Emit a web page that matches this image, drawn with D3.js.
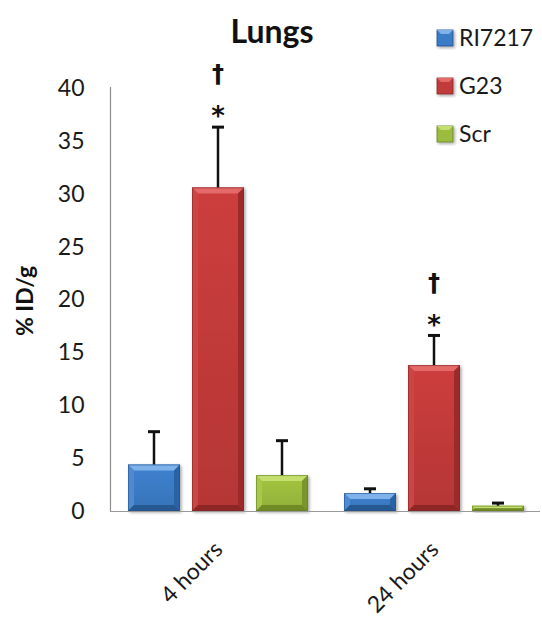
<!DOCTYPE html>
<html>
<head>
<meta charset="utf-8">
<script src="https://cdn.jsdelivr.net/npm/d3@7"></script>
<style>
  html, body { margin: 0; padding: 0; background: #fff; }
  svg { display: block; font-family: Lato, "Open Sans", sans-serif; }
</style>
</head>
<body>
<svg id="chart" width="542" height="621"></svg>
<script>
// Lungs uptake (% ID/g) per time point and peptide
const categories = ["4 hours", "24 hours"];
const seriesNames = ["RI7217", "G23", "Scr"];
const means = {
  "RI7217": [4.4, 1.7],
  "G23":    [30.6, 13.8],
  "Scr":    [3.4, 0.5]
};
const errors = {
  "RI7217": [3.1, 0.4],
  "G23":    [5.7, 2.8],
  "Scr":    [3.25, 0.25]
};
const yTicks = [0, 5, 10, 15, 20, 25, 30, 35, 40];
// significance marks drawn above the G23 bars
const sigSeries = "G23";
const sigStar = ["*", "*"];
const sigDagger = ["\u2020", "\u2020"];

const palette = {
  "RI7217": { base: "#3b7bc6", top: "#7fb2ea", left: "#4d8ad2", right: "#2c62a6", bottom: "#275892", edge: "#24508a" },
  "G23":    { base: "#c23a3a", top: "#e46a6a", left: "#cc4545", right: "#9c2a2a", bottom: "#8e2626", edge: "#862424" },
  "Scr":    { base: "#9bbc3d", top: "#c4df70", left: "#a8c84c", right: "#7a962b", bottom: "#6f8a26", edge: "#667f22" }
};

const svg = d3.select("#chart");

const x = d3.scaleBand().domain(categories).range([110, 542]).paddingInner(0).paddingOuter(0);
const xs = d3.scaleBand().domain(seriesNames).range([0, x.bandwidth()])
  .paddingInner(0.1875).paddingOuter(0.28125);
const y = d3.scaleLinear().domain([0, 40]).range([511, 88]);

const defs = svg.append("defs");
const shadow = defs.append("filter").attr("id", "shadow")
  .attr("x", "-20%").attr("y", "-20%").attr("width", "140%").attr("height", "140%");
shadow.append("feDropShadow").attr("dx", 1.5).attr("dy", 1.5)
  .attr("stdDeviation", 1.5).attr("flood-color", "#000").attr("flood-opacity", 0.35);

// shading down each bar face
seriesNames.forEach(s => {
  const g = defs.append("linearGradient").attr("id", "grad-" + s)
    .attr("x1", 0).attr("y1", 0).attr("x2", 0).attr("y2", 1);
  g.append("stop").attr("offset", "0%").attr("stop-color", d3.color(palette[s].base).brighter(0.15));
  g.append("stop").attr("offset", "100%").attr("stop-color", d3.color(palette[s].base).darker(0.2));
});

// axes lines
svg.append("line")
  .attr("x1", 110.5).attr("x2", 110.5).attr("y1", y(40) - 1).attr("y2", y(0) + 1)
  .attr("stroke", "#8c8c8c").attr("stroke-width", 1.2);

// y tick labels
const yAxis = d3.axisLeft(y).tickValues(yTicks).tickSize(0).tickPadding(26);
const yg = svg.append("g").attr("transform", "translate(110.5,0)").call(yAxis);
yg.select(".domain").remove();
yg.selectAll("text")
  .attr("font-family", "Lato, 'Open Sans', sans-serif")
  .attr("font-size", 23).attr("fill", "#1a1a1a");

// bars
const data = [];
categories.forEach((c, ci) => {
  seriesNames.forEach(s => {
    data.push({ cat: c, ci: ci, series: s, value: means[s][ci], err: errors[s][ci] });
  });
});

const bars = svg.append("g").selectAll("g.bar").data(data).join("g").attr("class", "bar")
  .attr("filter", "url(#shadow)");

bars.each(function(d) {
  const g = d3.select(this);
  const p = palette[d.series];
  const x0 = x(d.cat) + xs(d.series);
  const x1 = x0 + xs.bandwidth();
  const y0 = y(d.value);
  const y1 = y(0);
  const b = Math.min(6, (y1 - y0) / 2);
  const poly = pts => pts.map(q => q.join(",")).join(" ");
  g.append("rect").attr("x", x0).attr("y", y0).attr("width", x1 - x0).attr("height", y1 - y0)
    .attr("fill", "url(#grad-" + d.series + ")");
  g.append("polygon").attr("points", poly([[x0, y0], [x1, y0], [x1 - b, y0 + b], [x0 + b, y0 + b]])).attr("fill", p.top);
  g.append("polygon").attr("points", poly([[x0, y0], [x0 + b, y0 + b], [x0 + b, y1 - b], [x0, y1]])).attr("fill", p.left);
  g.append("polygon").attr("points", poly([[x1, y0], [x1, y1], [x1 - b, y1 - b], [x1 - b, y0 + b]])).attr("fill", p.right);
  g.append("polygon").attr("points", poly([[x0, y1], [x0 + b, y1 - b], [x1 - b, y1 - b], [x1, y1]])).attr("fill", p.bottom);
  g.append("rect").attr("x", x0 + 0.5).attr("y", y0 + 0.5).attr("width", x1 - x0 - 1).attr("height", y1 - y0 - 1)
    .attr("fill", "none").attr("stroke", p.edge).attr("stroke-width", 1).attr("stroke-opacity", 0.6);
});

// x baseline
svg.append("line")
  .attr("x1", 110).attr("x2", 540).attr("y1", y(0) + 0.5).attr("y2", y(0) + 0.5)
  .attr("stroke", "#9a9a9a").attr("stroke-width", 1.2);

// error bars (upper only)
const eb = svg.append("g");
data.forEach(d => {
  const cx = x(d.cat) + xs(d.series) + xs.bandwidth() / 2;
  const yt = y(d.value + d.err);
  eb.append("line").attr("x1", cx).attr("x2", cx).attr("y1", y(d.value)).attr("y2", yt)
    .attr("stroke", "#111").attr("stroke-width", 2.5);
  eb.append("line").attr("x1", cx - 6).attr("x2", cx + 6).attr("y1", yt).attr("y2", yt)
    .attr("stroke", "#111").attr("stroke-width", 3);
});

// significance marks
categories.forEach((c, ci) => {
  const cx = x(c) + xs(sigSeries) + xs.bandwidth() / 2;
  const yt = y(means[sigSeries][ci] + errors[sigSeries][ci]);
  svg.append("text").attr("x", cx).attr("y", yt - 18).attr("dy", "0.62em")
    .attr("text-anchor", "middle").attr("font-size", 26).attr("font-weight", "bold")
    .attr("font-family", "'DejaVu Sans', sans-serif").attr("fill", "#111")
    .text(sigStar[ci]);
  svg.append("text").attr("x", cx).attr("y", yt - 54).attr("dy", "0.38em")
    .attr("text-anchor", "middle").attr("font-size", 24).attr("font-weight", "bold")
    .attr("font-family", "'DejaVu Sans', sans-serif").attr("fill", "#111")
    .text(sigDagger[ci]);
});

// category labels, rotated
categories.forEach(c => {
  const cx = x(c) + x.bandwidth() / 2;
  svg.append("text")
    .attr("transform", `translate(${cx + 6},551) rotate(-45)`)
    .attr("text-anchor", "end").attr("font-size", 23).attr("fill", "#1a1a1a")
    .text(c);
});

// y axis title
svg.append("text")
  .attr("transform", "translate(33,301) rotate(-90)")
  .attr("text-anchor", "middle").attr("font-size", 23).attr("font-weight", "bold").attr("fill", "#111")
  .text("% ID/g");

// chart title
svg.append("text")
  .attr("x", 272).attr("y", 43).attr("text-anchor", "middle")
  .attr("font-size", 32).attr("font-weight", "bold").attr("fill", "#111")
  .text("Lungs");

// legend
const legend = svg.append("g").selectAll("g").data(seriesNames).join("g")
  .attr("transform", (d, i) => `translate(437,${30 + i * 48})`);
legend.append("rect").attr("width", 16).attr("height", 16)
  .attr("fill", d => palette[d].base).attr("stroke", d => palette[d].edge).attr("stroke-width", 0.8)
  .attr("filter", "url(#shadow)");
legend.append("polygon")
  .attr("points", "0,0 16,0 12,4 4,4").attr("fill", d => palette[d].top);
legend.append("text").attr("x", 22).attr("y", 16)
  .attr("font-size", 23).attr("fill", "#1a1a1a")
  .text(d => d);
</script>
</body>
</html>
